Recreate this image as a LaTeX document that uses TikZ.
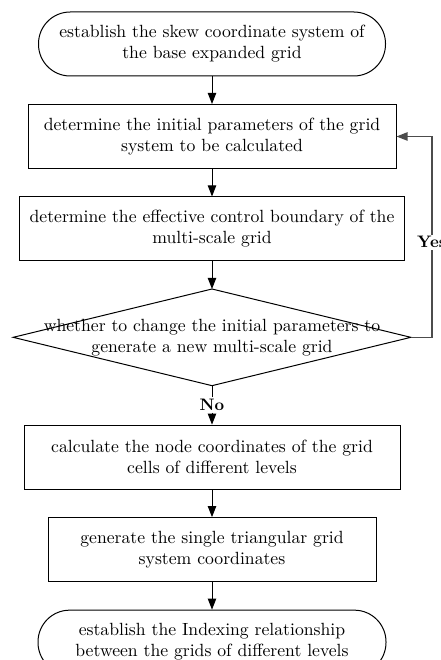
\documentclass[tikz,border=0pt]{standalone}
\usetikzlibrary{positioning,arrows.meta}

\begin{document}
\begin{tikzpicture}[x=0.6pt,y=-0.6pt,
  font=\fontsize{10.6}{12.6}\selectfont,
  box/.style={draw,align=center,inner sep=0pt,line width=0.6pt,minimum height=38.4pt},
  term/.style={box,rounded corners=19pt},
  decision/.style={align=center,inner sep=0pt,minimum width=238.2pt,minimum height=57.6pt},
  lbl/.style={font=\fontsize{10}{12}\selectfont\bfseries,text=black,inner sep=1pt},
  arr/.style={-{Triangle[length=6.6pt,width=5pt]},line width=0.6pt},
  back/.style={arr,color=black!70,line width=0.8pt},
  node distance=16.5pt]
  \useasboundingbox (0,0) rectangle (440,660);
  % main column
  \node[term,minimum width=208.2pt] (start) at (212,44) {establish the skew coordinate system of\\the base expanded grid};
  \node[box,minimum width=220.8pt,below=of start] (init) {determine the initial parameters of the grid\\system to be calculated};
  \node[box,minimum width=231pt,below=of init] (bound) {determine the effective control boundary of the\\multi-scale grid};
  \node[decision,below=of bound] (decide) {whether to change the initial parameters to\\generate a new multi-scale grid};
  \draw[line width=0.6pt] (decide.north) -- (decide.east) -- (decide.south) -- (decide.west) -- cycle;
  \node[lbl,below=7pt of decide] (no) {No};
  \node[box,minimum width=225.6pt,below=23.4pt of decide] (calc) {calculate the node coordinates of the grid\\cells of different levels};
  \node[box,minimum width=196.8pt,below=of calc] (gen) {generate the single triangular grid\\system coordinates};
  \node[term,minimum width=208.8pt,below=of gen] (finish) {establish the Indexing relationship\\between the grids of different levels};
  % connectors
  \draw[arr] (start) -- (init);
  \draw[arr] (init) -- (bound);
  \draw[arr] (bound) -- (decide.north);
  \draw[line width=0.6pt] (decide.south) -- (no);
  \draw[arr] (no) -- (calc);
  \draw[arr] (calc) -- (gen);
  \draw[arr] (gen) -- (finish);
  % loop back
  \draw[back] (decide.east) -- ++(21,0) |- node[lbl,fill=white,pos=0.237] (yes) {Yes} (init.east);
\end{tikzpicture}
\end{document}
